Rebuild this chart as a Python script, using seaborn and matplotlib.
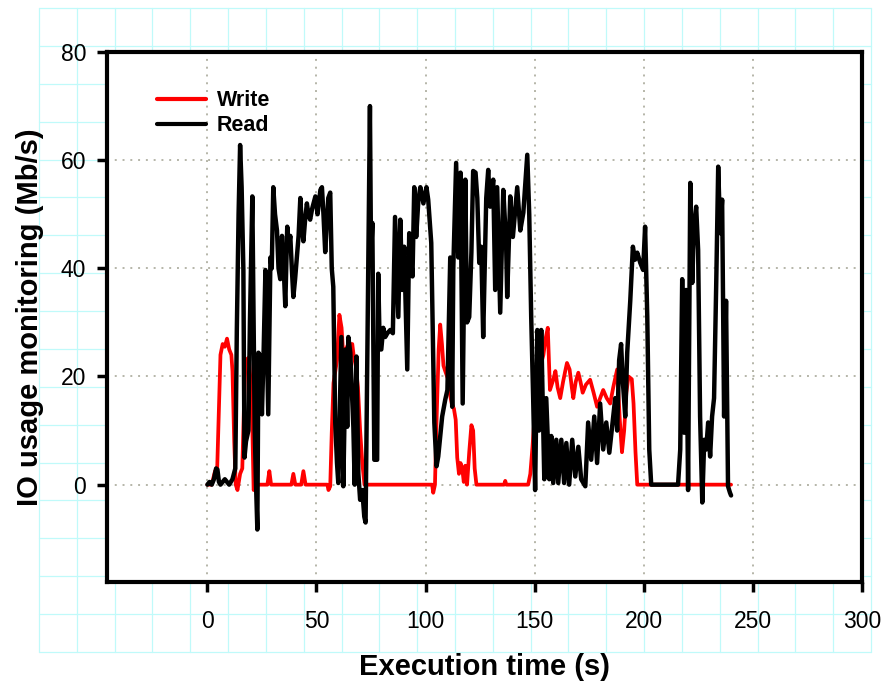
import numpy as np
import pandas as pd
import matplotlib
matplotlib.use("Agg")
import matplotlib.pyplot as plt
import seaborn as sns
from matplotlib.lines import Line2D

# ---------------- data ----------------
write_t = [0, 2, 3.5, 4.5, 5, 6, 7, 8, 9, 10, 11, 11.5, 12.3, 13, 13.8, 15, 16, 16.8, 17.5, 19, 20,
           20.6, 21.2, 22, 27.5, 28.4, 29.2, 38.5, 39.4, 40.3, 43, 44, 45, 55, 55.5, 56.3, 57, 57.8,
           59.4, 60.5, 61.5, 62.4, 63.5, 64.5, 66.4, 67, 68, 69, 70, 71, 72, 103, 103.5, 104.3, 105,
           106, 106.7, 107.5, 108.2, 109, 110.4, 111, 112, 113, 113.8, 114.5, 115.3, 116, 116.8, 117.5,
           118.2, 119, 120, 121, 121.8, 122.5, 123.3, 136, 136.5, 137, 147, 148, 149, 150, 151, 151.6,
           152.4, 153, 154, 155, 156, 157, 158.5, 159.5, 160.5, 161.7, 163, 164, 164.8, 166, 167, 167.7,
           168.8, 170, 171, 172, 173.5, 175.4, 177, 178.6, 180, 181.4, 183, 184.6, 186, 187.8, 189, 190,
           191, 192, 193, 194.5, 195.3, 196.2, 197, 240]
write_v = [0, 0, 2.5, 3, 10, 24, 26, 25.5, 27, 25, 24, 21, 8, 0, -1, 2, 3, 15, 23, 23.5, 18,
           10.7, -1, 0, 0, 2.5, 0, 0, 2, 0, 0, 2.5, 0, 0, -1, -0.3, 9.6, 18.8,
           23, 31.4, 29, 23, 25, 26, 26, 24, 22, 18, 10, 4, 0, 0, -1.5, 0, 11.5,
           25, 29.6, 26, 22, 21, 19.4, 17, 15, 14, 12, 5, 2, 4, 3, 0.5,
           3.5, 0, 6, 11, 10, 3, 0, 0, 0.7, 0, 0, 2, 7, 13, 22, 26,
           24, 22.5, 24, 27, 29, 17.5, 19.4, 21, 18, 16, 19, 21, 22.5, 21.3, 18, 16,
           19, 20.7, 19, 17, 18.5, 19.4, 17, 14.4, 16, 17.5, 16, 15, 18, 21.3, 12, 6,
           10, 17, 20, 19.5, 15, 6, 0, 0]

read_t = [0, 1, 2, 3, 4, 4.6, 5.3, 6, 8, 9, 10, 11.5, 12.8, 13.5, 14.3, 15, 15.7, 16.5, 17, 17.7,
          18.8, 19.5, 20.6, 21.2, 21.7, 22.3, 22.9, 23.4, 24.3, 25, 25.8, 26.6, 27.3, 27.9, 28.9,
          29.5, 30.2, 31, 31.9, 32.6, 33.4, 34.2, 35, 35.7, 36.6, 37.3, 38, 38.7, 39.4, 40.2, 41,
          41.8, 42.6, 43.3, 44, 44.8, 45.6, 46.3, 47.1, 48, 49.5, 50.5, 51.8, 52.5, 53.2, 54, 54.7,
          55.4, 56.3, 57, 57.7, 58.6, 59.4, 60, 61.4, 62.3, 63.4, 64.1, 64.6, 65.5, 66.9, 67.5, 68.3,
          69.2, 70, 71, 71.9, 72.5, 73.3, 74.5, 75, 75.6, 76.5, 77.8, 78.3, 79, 79.7, 80.6, 81.5,
          82.5, 83.8, 85, 86, 87.5, 88.4, 89.3, 90.2, 91.6, 92.5, 94, 94.8, 95.7, 96.7, 97.6, 99,
          100.4, 101.2, 102.6, 104, 105, 105.8, 106.5, 107.6, 109, 110, 111.3, 112.2, 112.7, 114,
          115, 116, 117, 118.2, 119, 120, 121, 121.8, 122.9, 123.7, 124.6, 125.5, 126.4, 127.8,
          128.7, 129.6, 131, 131.9, 132.8, 134.2, 135.6, 136.9, 137.4, 138.8, 140, 142, 143.4, 144.8,
          146.6, 147.5, 148.4, 149.3, 150.2, 151.2, 152, 153, 154.4, 155.3, 156.7, 157.6, 158.5,
          159.9, 160.8, 162.2, 163.5, 164.5, 165.8, 167.2, 168.6, 170, 171.3, 173.2, 174.5, 175.9,
          177.3, 178.6, 180, 181.4, 182.8, 184.2, 185.5, 186.9, 187.8, 188.7, 189.6, 190.4, 191.5,
          192.4, 193.8, 195, 196, 197, 198.4, 199.7, 200.6, 201.6, 202.5, 203.4, 215.7, 216.7,
          217.6, 218.5, 219.4, 220.3, 221.3, 222.2, 223, 224, 224.9, 225.8, 226.8, 227.7, 228.6,
          229.5, 230.4, 231.3, 232.2, 233.2, 234.1, 235, 235.9, 236.8, 237.7, 238.6, 239.5, 240]
read_v = [0, 0.5, 0, 1, 3, 2.8, 0.5, 0, 1, 0.5, 0, 1, 3, 28.7, 50, 62.8, 55, 39.7, 5, 8,
          10, 30, 53.3, 30, 10, 0, -8.3, 24.4, 23.7, 13, 25, 39.7, 25, 13, 42,
          40, 55, 50, 47, 40, 38, 46, 40, 33, 47.7, 44, 46, 40, 34.7, 38, 42,
          46, 53, 48, 45, 49, 52, 50, 49, 51, 53.3, 50, 54.5, 55, 50, 43, 48,
          53, 54, 40, 36.6, 11.5, 4, 0.3, 27.3, -0.3, 25, 10.7, 27.3, 24.4, 10.7, 0, 23.7,
          2, -2.8, -1, -5.9, -7, 23.7, 70, 42, 48.4, 4.6, 4.6, 39, 25, 25, 29, 27.3,
          28, 28.6, 28, 49.5, 31, 49, 36, 44, 21.3, 46.5, 38.5, 55, 45.8, 52.7, 55, 52,
          55, 52.7, 44.7, 11.5, 3.4, 5.2, 8, 12.6, 15.7, 17.5, 42, 14.4, 40, 59.5,
          42, 57.7, 15, 56.4, 30, 31, 43, 58, 57.7, 53, 41, 44, 27.3, 53,
          58.2, 51.4, 56.4, 36, 55, 31.8, 54.5, 44.7, 34.7, 53.3, 45.8, 55, 47, 50.3,
          61, 50, 31, 16, -1, 28.6, 10, 28.6, 1, 16, 1, 9, 0.3,
          8.3, 0.3, 8.3, 0.3, 7.7, 0, 8.3, 1.5, 7, 1, -0.3, 11.5, 4.6,
          12.6, 4, 15, 6.5, 11.5, 5.9, 10.7, 16, 10, 23, 26, 19, 12.6,
          24.4, 34, 44, 41.6, 42.9, 41, 39.7, 47.7, 31, 6.5, 0, 0, 6.5,
          38, 9.6, 36, -1, 55.8, 37.3, 47.7, 51.4, 43.4, 12.6, -3.3, 8.3, 6.5,
          11.5, 5.2, 12.6, 16, 37.3, 58.8, 46.5, 52.7, 12.6, 34, -0.3, -1.5, -2]

x_ticks = [0, 50, 100, 150, 200, 250, 300]
y_ticks = [0, 20, 40, 60, 80]
x_label = "Execution time (s)"
y_label = "IO usage monitoring (Mb/s)"

write_df = pd.DataFrame({"t": write_t, "v": write_v})
read_df = pd.DataFrame({"t": read_t, "v": read_v})

# ---------------- style ----------------
sns.set_style("white")
plt.rcParams["font.family"] = ["Liberation Sans", "DejaVu Sans"]
plt.rcParams["text.color"] = "black"
plt.rcParams["axes.labelcolor"] = "black"
plt.rcParams["xtick.color"] = "black"
plt.rcParams["ytick.color"] = "black"

W, H = 891, 689
fig = plt.figure(figsize=(W / 100, H / 100), dpi=100)
fig.patch.set_facecolor("white")

# light cyan "graph paper" behind the chart
cyan = "#c0fafa"
for k in range(23):
    x = (39 + k * 37.82) / W
    fig.add_artist(Line2D([x, x], [1 - 8 / H, 1 - 652 / H], color=cyan, lw=0.9, zorder=-5))
for k in range(18):
    y = 1 - (8 + k * 37.88) / H
    fig.add_artist(Line2D([39 / W, 871 / W], [y, y], color=cyan, lw=0.9, zorder=-5))

ax = fig.add_axes([107 / W, 1 - 582 / H, 755 / W, 530 / H])
ax.set_facecolor("white")

sns.lineplot(data=write_df, x="t", y="v", ax=ax, color="#ff0000", lw=2.7,
             sort=False, estimator=None, label="Write")
sns.lineplot(data=read_df, x="t", y="v", ax=ax, color="black", lw=3.2,
             sort=False, estimator=None, label="Read")

ax.set_xlim(-46, 300)
ax.set_ylim(-18, 80)
ax.set_xticks(x_ticks)
ax.set_yticks(y_ticks)

# dotted grid
for xv in x_ticks[:-1]:
    ax.axvline(xv, color="#b5b5a8", lw=1.4, ls=(0, (1, 3)), zorder=0.5)
for yv in y_ticks[:-1]:
    ax.axhline(yv, color="#b5b5a8", lw=1.4, ls=(0, (1, 3)), zorder=0.5)

for s in ax.spines.values():
    s.set_linewidth(3)
    s.set_color("black")
    s.set_visible(True)

ax.tick_params(axis="both", which="major", direction="out", length=7, width=2.5,
               labelsize=16.5, colors="black")
ax.tick_params(axis="x", pad=13, bottom=True, top=False)
ax.tick_params(axis="y", pad=8, left=True, right=False)

ax.set_xlabel(x_label, fontsize=21, fontweight="bold", va="center")
ax.set_ylabel(y_label, fontsize=21, fontweight="bold", va="center")
ax.xaxis.set_label_coords(0.5, -0.16)
ax.yaxis.set_label_coords(-0.102, 0.5)

leg = ax.legend(loc="upper left", bbox_to_anchor=(0.066, 0.928), frameon=False,
                prop={"size": 15.5, "weight": "bold"}, handlelength=2.3,
                handletextpad=0.5, labelspacing=0.2, borderaxespad=0, borderpad=0)
for h in leg.get_lines():
    h.set_linewidth(3)

fig.savefig("out.png", dpi=100, facecolor="white")
